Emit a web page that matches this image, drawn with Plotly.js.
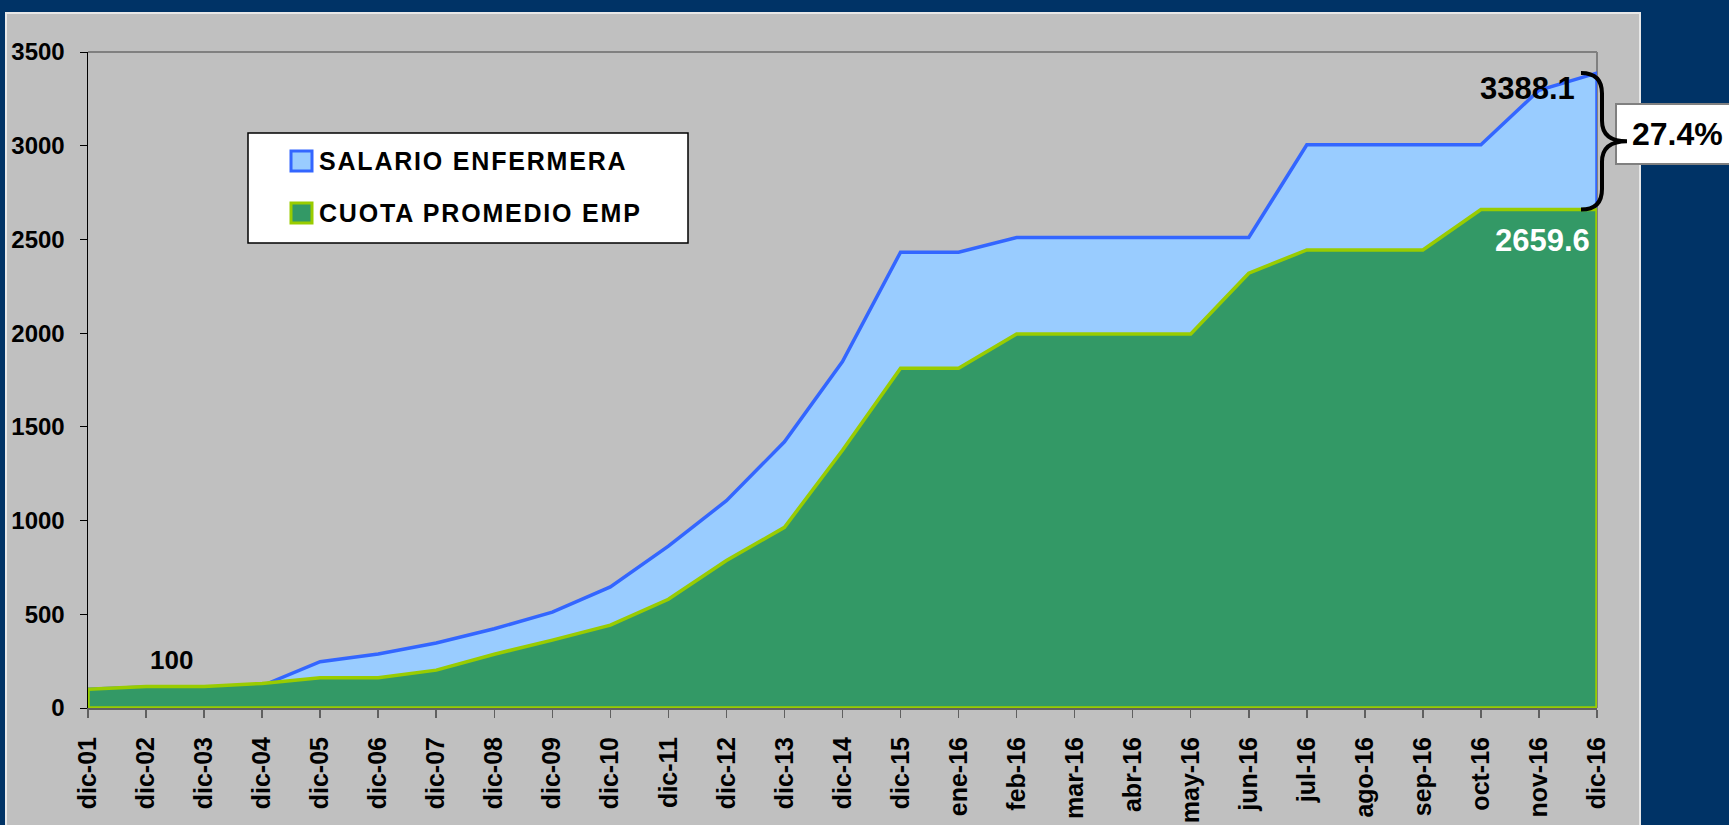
<!DOCTYPE html>
<html><head><meta charset="utf-8">
<script src="https://cdn.plot.ly/plotly-3.0.1.min.js"></script>
<style>html,body{margin:0;padding:0;background:#003366;overflow:hidden}</style>
</head><body><div id="chart" style="width:1729px;height:825px"></div>
<script>
const categories = ['dic-01','dic-02','dic-03','dic-04','dic-05','dic-06','dic-07','dic-08','dic-09','dic-10','dic-11','dic-12','dic-13','dic-14','dic-15','ene-16','feb-16','mar-16','abr-16','may-16','jun-16','jul-16','ago-16','sep-16','oct-16','nov-16','dic-16'];
const salarioEnfermera = [100,112,112,118,247,288,347,423,511,646,864,1106,1420,1848,2432,2432,2510,2510,2510,2510,2510,3005,3005,3005,3005,3296,3388.1];
const cuotaPromedioEmp = [100,115,115,131,161,161,202,287,362,442,580,787,964,1375,1813,1813,1995,1995,1995,1995,2320,2444,2444,2444,2659.6,2659.6,2659.6];
const seriesNames = ['SALARIO ENFERMERA','CUOTA PROMEDIO EMP'];
const yTicks = [0,500,1000,1500,2000,2500,3000,3500];

const W = 1729, H = 825, L = 88, R = 132, T = 52, B = 117;
const PW = W - L - R, PH = H - T - B;
const px = v => (v - L) / PW;
const py = v => (H - B - v) / PH;
const FONT = 'Liberation Sans, Arial, sans-serif';

const n = categories.length;
function closed(vals) {
  return {
    x: categories.concat([categories[n - 1], categories[0], categories[0]]),
    y: vals.concat([0, 0, vals[0]])
  };
}
const s = closed(salarioEnfermera), c = closed(cuotaPromedioEmp);
const traces = [
  {x: s.x, y: s.y, type: 'scatter', mode: 'lines', fill: 'toself', fillcolor: '#99ccff',
   line: {color: '#3366ff', width: 3.5}, name: seriesNames[0], cliponaxis: false, hoverinfo: 'skip'},
  {x: c.x, y: c.y, type: 'scatter', mode: 'lines', fill: 'toself', fillcolor: '#339966',
   line: {color: '#99cc00', width: 3.5}, name: seriesNames[1], cliponaxis: false, hoverinfo: 'skip'}
];

const lastS = salarioEnfermera[n - 1], lastC = cuotaPromedioEmp[n - 1];
const pct = ((lastS / lastC - 1) * 100).toFixed(1) + '%';
const yM = (lastS + lastC) / 2, d = 110;
const xL = px(1581), xV = px(1602), xTip = px(1627);
const bracePath = `M ${xL} ${lastS} Q ${xV} ${lastS} ${xV} ${lastS - d} L ${xV} ${yM + d} Q ${xV} ${yM} ${xTip} ${yM} Q ${xV} ${yM} ${xV} ${yM - d} L ${xV} ${lastC + d} Q ${xV} ${lastC} ${xL} ${lastC}`;

const shapes = [
  {type: 'rect', xref: 'paper', yref: 'paper', x0: px(6), x1: px(1640), y0: py(840), y1: py(13),
   fillcolor: '#c0c0c0', line: {color: '#e8e8e8', width: 2}, layer: 'below'},
  {type: 'line', xref: 'paper', yref: 'paper', x0: 0, x1: 1, y0: 1, y1: 1, line: {color: '#808080', width: 2}, layer: 'below'},
  {type: 'line', xref: 'paper', yref: 'paper', x0: 1, x1: 1, y0: 0, y1: 1, line: {color: '#808080', width: 2}, layer: 'below'},
  // legend box
  {type: 'rect', xref: 'paper', yref: 'paper', x0: px(248), x1: px(688), y0: py(243), y1: py(133),
   fillcolor: '#ffffff', line: {color: '#000000', width: 1.5}, layer: 'above'},
  {type: 'rect', xref: 'paper', yref: 'paper', x0: px(291), x1: px(312), y0: py(171), y1: py(151),
   fillcolor: '#99ccff', line: {color: '#3366ff', width: 3}, layer: 'above'},
  {type: 'rect', xref: 'paper', yref: 'paper', x0: px(291), x1: px(312), y0: py(223), y1: py(203),
   fillcolor: '#339966', line: {color: '#99cc00', width: 3}, layer: 'above'},
  // percentage box
  {type: 'rect', xref: 'paper', yref: 'paper', x0: px(1616), x1: px(1760), y0: py(164), y1: py(104),
   fillcolor: '#ffffff', line: {color: '#808080', width: 2}, layer: 'above'},
  // brace
  {type: 'path', xref: 'paper', yref: 'y', path: bracePath, line: {color: '#000000', width: 4}, layer: 'above'}
];

const annotations = [
  {xref: 'paper', yref: 'paper', x: px(317), y: py(161), xanchor: 'left', yanchor: 'middle', showarrow: false,
   text: seriesNames[0], font: {family: FONT, size: 25, color: '#000', weight: 'bold'}},
  {xref: 'paper', yref: 'paper', x: px(317), y: py(213), xanchor: 'left', yanchor: 'middle', showarrow: false,
   text: seriesNames[1], font: {family: FONT, size: 25, color: '#000', weight: 'bold'}},
  {xref: 'paper', yref: 'paper', x: px(1527), y: py(88), xanchor: 'center', yanchor: 'middle', showarrow: false,
   text: String(lastS), font: {family: FONT, size: 31, color: '#000', weight: 'bold'}},
  {xref: 'paper', yref: 'paper', x: px(1542), y: py(240), xanchor: 'center', yanchor: 'middle', showarrow: false,
   text: String(lastC), font: {family: FONT, size: 31, color: '#ffffff', weight: 'bold'}},
  {xref: 'paper', yref: 'paper', x: px(171), y: py(660), xanchor: 'center', yanchor: 'middle', showarrow: false,
   text: String(salarioEnfermera[0]), font: {family: FONT, size: 26, color: '#000', weight: 'bold'}},
  {xref: 'paper', yref: 'paper', x: px(1630), y: py(134), xanchor: 'left', yanchor: 'middle', showarrow: false,
   text: pct, font: {family: FONT, size: 32, color: '#000', weight: 'bold'}}
];

const layout = {
  width: W, height: H,
  margin: {l: L, r: R, t: T, b: B, pad: 0},
  paper_bgcolor: '#003366', plot_bgcolor: '#c0c0c0',
  showlegend: false,
  xaxis: {type: 'category', categoryorder: 'array', categoryarray: categories,
    range: [0, n - 1], showgrid: false, zeroline: false, showline: true, linecolor: '#606060', linewidth: 2,
    ticks: 'outside', ticklen: 8, tickcolor: '#606060', tickwidth: 1.5, tickangle: -90,
    ticklabelstandoff: 9,
    tickfont: {family: FONT, size: 25, color: '#000', weight: 'bold'}, fixedrange: true},
  yaxis: {range: [0, 3500], tickvals: yTicks, ticktext: yTicks.map(String), showgrid: false, zeroline: false,
    showline: true, linecolor: '#000', linewidth: 1.5, ticks: 'outside', ticklen: 7, tickcolor: '#000',
    ticklabelstandoff: 10,
    tickfont: {family: FONT, size: 24, color: '#000', weight: 'bold'}, fixedrange: true},
  shapes: shapes, annotations: annotations
};
Plotly.newPlot('chart', traces, layout, {displayModeBar: false, staticPlot: true}).then(gd => {
  const texts = gd.querySelectorAll('.annotation-text');
  [0, 1].forEach(i => {
    const t = texts[i];
    if (!t) return;
    const b0 = t.getBBox();
    t.style.letterSpacing = '1.8px';
    const b1 = t.getBBox();
    t.setAttribute('x', (parseFloat(t.getAttribute('x')) || 0) + (b0.x - b1.x));
  });
});
</script></body></html>
